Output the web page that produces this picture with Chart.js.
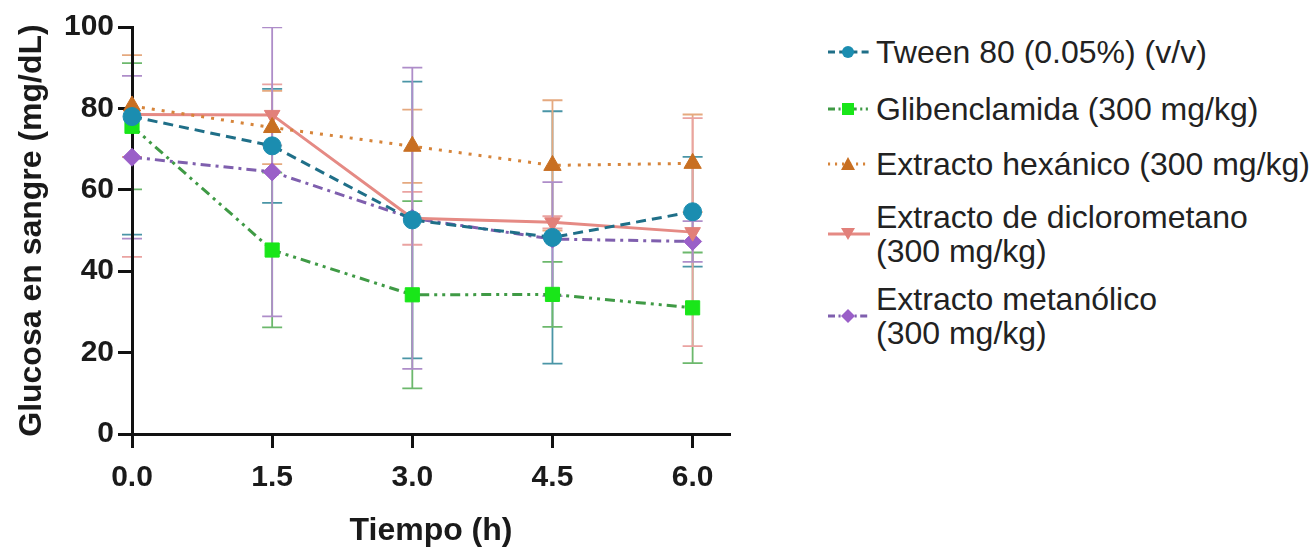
<!DOCTYPE html>
<html>
<head>
<meta charset="utf-8">
<script src="https://cdn.jsdelivr.net/npm/chart.js@4.4.1/dist/chart.umd.min.js"></script>
<style>
  html, body { margin: 0; padding: 0; background: #fff; }
  body { width: 1315px; height: 549px; position: relative; overflow: hidden; font-family: "Liberation Sans", Arial, sans-serif; }
  #wrap { position: absolute; left: 0; top: 0; width: 760px; height: 549px; }
  #legend { position: absolute; left: 826px; top: 0; width: 489px; height: 549px; }
  .item { position: absolute; left: 0; display: flex; align-items: center; }
  .item svg { flex: none; }
  .item span { font-size: 32px; line-height: 34px; color: #222; white-space: pre; margin-left: 4px; }
  .item:nth-child(1) { top: 35px; }
  .item:nth-child(2) { top: 92px; }
  .item:nth-child(3) { top: 147px; }
  .item:nth-child(4) { top: 200px; }
  .item:nth-child(5) { top: 282px; }
</style>
</head>
<body>
<div id="wrap"><canvas id="chart"></canvas></div>
<div id="legend"></div>
<script>
// --- datos ---
const timePoints = [0, 1.5, 3.0, 4.5, 6.0];
const xTicks = [0, 1.5, 3.0, 4.5, 6.0];

const seriesLabels = [
    'Tween 80 (0.05%) (v/v)',
    'Glibenclamida (300 mg/kg)',
    'Extracto hexánico (300 mg/kg)',
    'Extracto de diclorometano\n(300 mg/kg)',
    'Extracto metanólico\n(300 mg/kg)'
];

const tween   = [78.0, 70.8, 52.6, 48.3, 54.6];
const tweenSd = [29.0, 14.0, 34.0, 31.0, 13.5];

const gliben   = [75.6, 45.2, 34.2, 34.3, 31.0];
const glibenSd = [15.5, 19.0, 23.0, 8.0, 13.6];

const hexano   = [80.6, 75.3, 70.7, 66.0, 66.5];
const hexanoSd = [12.5, 9.0, 9.0, 16.0, 12.0];

const dicloro   = [78.5, 78.4, 53.0, 52.0, 49.6];
const dicloroSd = [35.0, 7.5, 6.5, 1.5, 28.0];

const metanol   = [68.0, 64.4, 53.0, 47.9, 47.3];
const metanolSd = [20.0, 35.5, 37.0, 14.0, 5.0];

Chart.defaults.font.family = '"Liberation Sans", Arial, Helvetica, sans-serif';
Chart.defaults.color = '#1a1a1a';

const toPoints = vals => vals.map((v, i) => ({ x: timePoints[i], y: v }));

// estilos de cada serie
const styles = [
    { line: '#1f6f88', fill: '#1b8db0', err: '#4a95a6', dash: [10, 6], point: 'circle', radius: 9, rot: 0 },
    { line: '#3f9a45', fill: '#19e619', err: '#6cb86c', dash: [10, 5, 3, 5, 3, 5], point: 'rect', radius: 10, rot: 0 },
    { line: '#d6843a', fill: '#c86f22', err: '#e5a97f', dash: [3, 7], point: 'triangle', radius: 10, rot: 0 },
    { line: '#e58a84', fill: '#e2807a', err: '#eaa3a1', dash: [], point: 'triangle', radius: 9, rot: 180 },
    { line: '#7f5fae', fill: '#9a5fc8', err: '#ae8dc9', dash: [10, 5, 3, 5], point: 'rectRot', radius: 9, rot: 0 }
];

const values = [tween, gliben, hexano, dicloro, metanol];
const errors = [tweenSd, glibenSd, hexanoSd, dicloroSd, metanolSd];

const datasets = values.map((vals, i) => ({
    label: seriesLabels[i],
    data: toPoints(vals),
    errors: errors[i],
    errColor: styles[i].err,
    borderColor: styles[i].line,
    borderWidth: 3,
    borderDash: styles[i].dash,
    pointStyle: styles[i].point,
    pointRotation: styles[i].rot,
    pointRadius: styles[i].radius,
    pointBackgroundColor: styles[i].fill,
    pointBorderColor: styles[i].fill,
    pointBorderWidth: 1,
    tension: 0,
    clip: false
}));

// barras de error (DE), dibujadas antes de los ejes para que el eje las tape
const errorBars = {
    id: 'errorBars',
    beforeDraw(chart) {
        const { ctx, chartArea, scales: { x, y } } = chart;
        ctx.save();
        ctx.beginPath();
        ctx.rect(0, chartArea.top, chart.width, chartArea.bottom - chartArea.top);
        ctx.clip();
        ctx.setLineDash([]);
        ctx.lineWidth = 1.8;
        chart.data.datasets.forEach(ds => {
            ctx.strokeStyle = ds.errColor;
            ds.data.forEach((p, j) => {
                const sd = ds.errors[j];
                const px = x.getPixelForValue(p.x);
                const top = y.getPixelForValue(p.y + sd);
                const bot = y.getPixelForValue(p.y - sd);
                ctx.beginPath();
                ctx.moveTo(px, top); ctx.lineTo(px, bot);
                ctx.moveTo(px - 10, top); ctx.lineTo(px + 10, top);
                ctx.moveTo(px - 10, bot); ctx.lineTo(px + 10, bot);
                ctx.stroke();
            });
        });
        ctx.restore();
    }
};

new Chart(document.getElementById('chart'), {
    type: 'line',
    data: { datasets: datasets },
    plugins: [errorBars],
    options: {
        responsive: true,
        maintainAspectRatio: false,
        animation: false,
        layout: { padding: { left: 0, right: 30, top: 27, bottom: 0 } },
        plugins: { legend: { display: false }, tooltip: { enabled: false } },
        scales: {
            x: {
                type: 'linear',
                min: 0,
                max: 6.4,
                afterBuildTicks: s => { s.ticks = xTicks.map(v => ({ value: v })); },
                afterFit: s => { s.height = 115; },
                ticks: {
                    callback: v => Number(v).toFixed(1),
                    font: { size: 30, weight: 'bold' },
                    color: '#1a1a1a',
                    padding: 12,
                    maxRotation: 0,
                    autoSkip: false
                },
                grid: { display: true, drawOnChartArea: false, drawTicks: true, tickLength: 14, tickWidth: 3, tickColor: '#111' },
                border: { display: true, color: '#111', width: 3 },
                title: {
                    display: true,
                    text: 'Tiempo (h)',
                    font: { size: 32, weight: 'bold' },
                    color: '#1a1a1a',
                    padding: { top: 0, bottom: -1 }
                }
            },
            y: {
                min: 0,
                max: 100,
                afterFit: s => { s.width = 132; },
                ticks: {
                    stepSize: 20,
                    font: { size: 30, weight: 'bold' },
                    color: '#1a1a1a',
                    padding: 4
                },
                grid: { display: true, drawOnChartArea: false, drawTicks: true, tickLength: 14, tickWidth: 3, tickColor: '#111' },
                border: { display: true, color: '#111', width: 3 },
                title: {
                    display: true,
                    text: 'Glucosa en sangre (mg/dL)',
                    font: { size: 32, weight: 'bold' },
                    color: '#1a1a1a',
                    padding: { top: 13, bottom: 0 }
                }
            }
        }
    }
});

// leyenda HTML (texto real) con símbolos SVG
function markerSvg(st) {
    const cx = 22, cy = 12;
    let m = '';
    if (st.point === 'circle') m = `<circle cx="${cx}" cy="${cy}" r="6" fill="${st.fill}"/>`;
    else if (st.point === 'rect') m = `<rect x="${cx - 6}" y="${cy - 6}" width="12" height="12" fill="${st.fill}"/>`;
    else if (st.point === 'rectRot') m = `<polygon points="${cx},${cy - 7} ${cx + 7},${cy} ${cx},${cy + 7} ${cx - 7},${cy}" fill="${st.fill}"/>`;
    else if (st.rot === 180) m = `<polygon points="${cx - 7},${cy - 6} ${cx + 7},${cy - 6} ${cx},${cy + 6}" fill="${st.fill}"/>`;
    else m = `<polygon points="${cx - 7},${cy + 6} ${cx + 7},${cy + 6} ${cx},${cy - 7}" fill="${st.fill}"/>`;
    const dash = st.dash.length ? `stroke-dasharray="${st.dash.map(d => d * 0.7).join(' ')}"` : '';
    return `<svg width="46" height="24" viewBox="0 0 46 24"><line x1="2" y1="${cy}" x2="44" y2="${cy}" stroke="${st.line}" stroke-width="3" ${dash}/>${m}</svg>`;
}

const legend = document.getElementById('legend');
seriesLabels.forEach((label, i) => {
    const div = document.createElement('div');
    div.className = 'item';
    div.innerHTML = markerSvg(styles[i]);
    const span = document.createElement('span');
    span.textContent = label;
    div.appendChild(span);
    legend.appendChild(div);
});
</script>
</body>
</html>
